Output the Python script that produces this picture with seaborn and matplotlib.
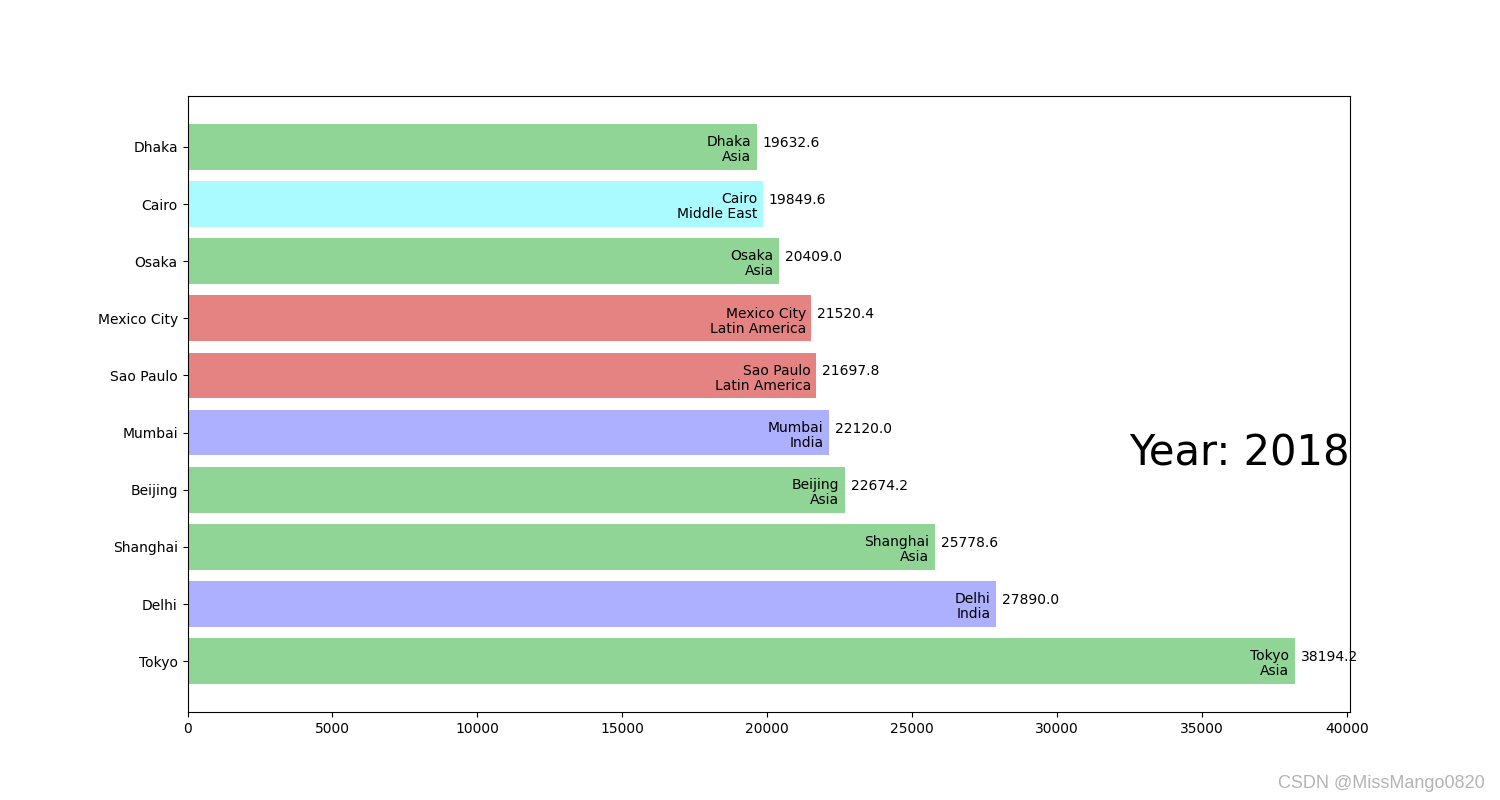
import matplotlib
matplotlib.use("Agg")
import matplotlib.pyplot as plt
import seaborn as sns
import pandas as pd

# Data (top to bottom as displayed)
cities = ["Dhaka", "Cairo", "Osaka", "Mexico City", "Sao Paulo",
          "Mumbai", "Beijing", "Shanghai", "Delhi", "Tokyo"]
groups = ["Asia", "Middle East", "Asia", "Latin America", "Latin America",
          "India", "Asia", "Asia", "India", "Asia"]
values = [19632.6, 19849.6, 20409.0, 21520.4, 21697.8,
          22120.0, 22674.2, 25778.6, 27890.0, 38194.2]
year = 2018

group_colors = {
    "India": "#adb0ff",
    "Europe": "#ffb3ff",
    "Asia": "#90d595",
    "Latin America": "#e48381",
    "Middle East": "#aafbff",
    "North America": "#f7bb5f",
    "Africa": "#eafb50",
}

df = pd.DataFrame({"city": cities, "group": groups, "value": values})

fig, ax = plt.subplots(figsize=(15, 8), dpi=100)
sns.barplot(data=df, x="value", y="city", hue="group", order=cities,
            palette=group_colors, dodge=False, saturation=1, width=0.8,
            legend=False, ax=ax, orient="h")

n = len(cities)
ax.set_ylim(n - 1 + 0.89, -0.89)
ax.set_xlim(0, max(values) * 1.05)
ax.set_xlabel("")
ax.set_ylabel("")

for i, (c, g, v) in enumerate(zip(cities, groups, values)):
    ax.annotate(f"{c}\n{g}", xy=(v, i), xytext=(-3.8, -2), textcoords="offset points",
                ha="right", va="center", fontsize=10, color="black", linespacing=1.08)
    ax.annotate(f"{v:.1f}", xy=(v, i), xytext=(4.3, 0), textcoords="offset points",
                ha="left", va="baseline", fontsize=10, color="black")

ax.text(1, 0.4, f"Year: {year}", transform=ax.transAxes, ha="right", fontsize=30)

fig.text(1485 / 1500, 12 / 800, "CSDN @MissMango0820", ha="right", va="baseline",
         fontsize=13, color="#b4b4b4", family="Liberation Sans")

fig.savefig("out.png", dpi=100)
